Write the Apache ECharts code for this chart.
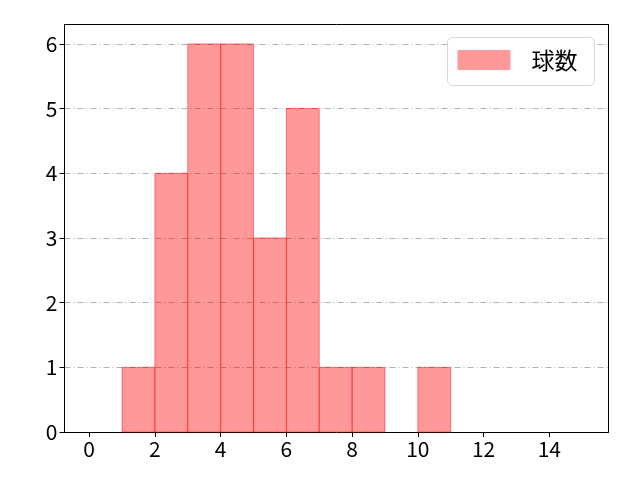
<!DOCTYPE html>
<html>
<head>
<meta charset="utf-8">
<script src="https://cdn.jsdelivr.net/npm/echarts@6/dist/echarts.min.js"></script>
<style>
html, body { margin: 0; padding: 0; background: #fff; }
#chart { width: 640px; height: 480px; }
</style>
</head>
<body>
<div id="chart"></div>
<script>
// histogram bins (left edge, right edge) and counts
var binStart = [1, 2, 3, 4, 5, 6, 7, 8, 9, 10];
var binEnd = [2, 3, 4, 5, 6, 7, 8, 9, 10, 11];
var counts = [1, 4, 6, 6, 3, 5, 1, 1, 0, 1];
var xTicks = [0, 2, 4, 6, 8, 10, 12, 14];
var yTicks = [0, 1, 2, 3, 4, 5, 6];
var seriesName = '球数';

var font = '"Noto Sans CJK JP", "DejaVu Sans", sans-serif';

var dom = document.getElementById('chart');
var myChart = echarts.init(dom);

var data = binStart.map(function (s, i) {
    return [s, binEnd[i], counts[i]];
});

// top / right frame lines
var frameAxis = {
    type: 'value',
    axisLine: { show: true, onZero: false, lineStyle: { color: '#000' } },
    axisTick: { show: false },
    axisLabel: { show: false },
    splitLine: { show: false }
};

myChart.setOption({
    animation: false,
    grid: {
        left: 64.5,
        right: 31.5,
        top: 24.5,
        bottom: 48
    },
    legend: {
        data: [{ name: seriesName, icon: 'rect' }],
        left: 447.5,
        top: 37.5,
        itemWidth: 53,
        itemHeight: 20,
        padding: [11, 17, 14, 10],
        borderColor: '#d6d6d6',
        borderWidth: 1,
        borderRadius: 5,
        backgroundColor: '#fff',
        textStyle: {
            fontFamily: font,
            fontSize: 23,
            lineHeight: 20,
            color: '#000',
            padding: [0, 0, 0, 16]
        }
    },
    xAxis: [{
        type: 'value',
        min: -0.75,
        max: 15.8,
        axisLine: { show: true, onZero: false, lineStyle: { color: '#000' } },
        axisTick: { show: true, length: 5, customValues: xTicks, lineStyle: { color: '#000' } },
        axisLabel: {
            customValues: xTicks,
            fontFamily: font,
            fontSize: 21,
            color: '#000',
            margin: 7
        },
        splitLine: { show: false }
    }, Object.assign({ position: 'top', min: -0.75, max: 15.8 }, frameAxis)],
    yAxis: [{
        type: 'value',
        min: 0,
        max: 6.3,
        interval: 1,
        axisLine: { show: true, onZero: false, lineStyle: { color: '#000' } },
        axisTick: { show: true, length: 5, customValues: yTicks, lineStyle: { color: '#000' } },
        axisLabel: {
            customValues: yTicks,
            fontFamily: font,
            fontSize: 21,
            color: '#000',
            margin: 7
        },
        splitLine: {
            show: true,
            lineStyle: { color: '#b0b0b0', width: 1, type: [6, 3, 1, 3] }
        }
    }, Object.assign({ position: 'right', min: 0, max: 6.3 }, frameAxis)],
    series: [{
        name: seriesName,
        type: 'custom',
        itemStyle: { color: 'rgba(255,0,0,0.4)' },
        encode: { x: [0, 1], y: 2 },
        renderItem: function (params, api) {
            if (api.value(2) <= 0) return;
            var p0 = api.coord([api.value(0), api.value(2)]);
            var p1 = api.coord([api.value(1), 0]);
            return {
                type: 'rect',
                shape: { x: p0[0], y: p0[1], width: p1[0] - p0[0], height: p1[1] - p0[1] },
                style: {
                    fill: 'rgba(255,0,0,0.4)',
                    stroke: 'rgba(255,0,0,0.45)',
                    lineWidth: 1
                }
            };
        },
        data: data
    }]
});
</script>
</body>
</html>
